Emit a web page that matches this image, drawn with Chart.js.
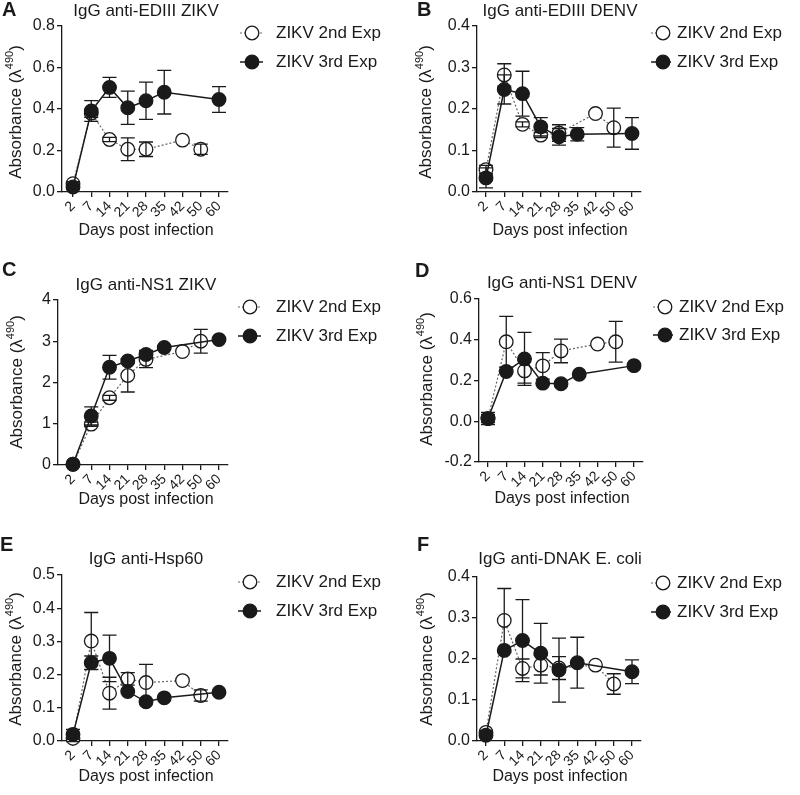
<!DOCTYPE html>
<html>
<head>
<meta charset="utf-8">
<script src="https://cdn.jsdelivr.net/npm/chart.js@4.4.0/dist/chart.umd.min.js"></script>
<style>
  body { margin: 0; background: #fff; width: 800px; height: 795px; position: relative; overflow: hidden; }
  canvas { position: absolute; }
</style>
</head>
<body>
<canvas id="pA" width="400" height="260" style="left:0;top:0"></canvas>
<canvas id="pB" width="400" height="260" style="left:400px;top:0"></canvas>
<canvas id="pC" width="400" height="260" style="left:0;top:260px"></canvas>
<canvas id="pD" width="400" height="260" style="left:400px;top:260px"></canvas>
<canvas id="pE" width="400" height="275" style="left:0;top:520px"></canvas>
<canvas id="pF" width="400" height="275" style="left:400px;top:520px"></canvas>
<script>
const dayLabels = ['2', '7', '14', '21', '28', '35', '42', '50', '60'];
const seriesNames = ['ZIKV 2nd Exp', 'ZIKV 3rd Exp'];

// A - IgG anti-EDIII ZIKV
const aTicks = [0, 0.2, 0.4, 0.6, 0.8];
const a2nd = [0.04, 0.38, 0.253, 0.206, 0.206, null, 0.25, 0.206, null];
const a2ndErr = [0.01, 0.02, 0.01, 0.055, 0.035, 0, 0, 0.025, 0];
const a3rd = [0.024, 0.39, 0.504, 0.406, 0.44, 0.481, null, null, 0.446];
const a3rdErr = [0.01, 0.05, 0.048, 0.08, 0.09, 0.105, 0, 0, 0.062];

// B - IgG anti-EDIII DENV
const bTicks = [0, 0.1, 0.2, 0.3, 0.4];
const b2nd = [0.054, 0.282, 0.163, 0.137, 0.142, null, 0.189, 0.155, null];
const b2ndErr = [0.01, 0.027, 0.006, 0.006, 0.02, 0, 0, 0.047, 0];
const b3rd = [0.034, 0.247, 0.237, 0.157, 0.133, 0.139, null, null, 0.141];
const b3rdErr = [0.024, 0.035, 0.054, 0.022, 0.02, 0.016, 0, 0, 0.038];

// C - IgG anti-NS1 ZIKV
const cTicks = [0, 1, 2, 3, 4];
const c2nd = [0.02, 0.99, 1.63, 2.17, 2.56, null, 2.75, 3.0, null];
const c2ndErr = [0, 0.05, 0.06, 0.4, 0.2, 0, 0, 0.29, 0];
const c3rd = [0.02, 1.19, 2.37, 2.52, 2.68, 2.85, null, null, 3.04];
const c3rdErr = [0, 0.22, 0.29, 0.05, 0.1, 0, 0, 0, 0];

// D - IgG anti-NS1 DENV
const dTicks = [-0.2, 0, 0.2, 0.4, 0.6];
const d2nd = [0.013, 0.39, 0.247, 0.272, 0.345, null, 0.379, 0.39, null];
const d2ndErr = [0.02, 0.125, 0.06, 0.065, 0.058, 0, 0, 0.1, 0];
const d3rd = [0.013, 0.244, 0.306, 0.187, 0.184, 0.231, null, null, 0.273];
const d3rdErr = [0.03, 0, 0.13, 0, 0, 0, 0, 0, 0];

// E - IgG anti-Hsp60
const eTicks = [0, 0.1, 0.2, 0.3, 0.4, 0.5];
const e2nd = [0.008, 0.301, 0.144, 0.187, 0.176, null, 0.182, 0.137, null];
const e2ndErr = [0.01, 0.086, 0.048, 0.019, 0.055, 0, 0, 0.017, 0];
const e3rd = [0.02, 0.236, 0.249, 0.149, 0.118, 0.13, null, null, 0.147];
const e3rdErr = [0.015, 0.02, 0.07, 0, 0, 0, 0, 0, 0];

// F - IgG anti-DNAK E. coli
const fTicks = [0, 0.1, 0.2, 0.3, 0.4];
const f2nd = [0.021, 0.294, 0.177, 0.185, 0.178, null, 0.185, 0.139, null];
const f2ndErr = [0.005, 0.078, 0.023, 0.024, 0.028, 0, 0, 0.025, 0];
const f3rd = [0.014, 0.221, 0.245, 0.214, 0.173, 0.191, null, null, 0.169];
const f3rdErr = [0.005, 0, 0.1, 0.073, 0.078, 0.062, 0, 0, 0.029];

const FONT = '"Liberation Sans", Arial, sans-serif';
const INK = '#1a1a1a';

// layout of each panel in page pixels
const panels = [
  { id: 'pA', x: 0, y: 0, h: 260, letter: 'A', title: 'IgG anti-EDIII ZIKV',
    s2: a2nd, e2: a2ndErr, s3: a3rd, e3: a3rdErr, ticks: aTicks, dec: 1,
    axisX: 62, firstX: 73, right: 228, top: 26, bottom: 192,
    letterPos: [2, 10], titlePos: [146, 11], yTitlePos: [15, 112], xTitleY: 231,
    legX: 252, legTextX: 276, legY: [33, 62] },
  { id: 'pB', x: 400, y: 0, h: 260, letter: 'B', title: 'IgG anti-EDIII DENV',
    s2: b2nd, e2: b2ndErr, s3: b3rd, e3: b3rdErr, ticks: bTicks, dec: 1,
    axisX: 477, firstX: 486, right: 641, top: 26, bottom: 192,
    letterPos: [417, 10], titlePos: [560, 11], yTitlePos: [425, 112], xTitleY: 231,
    legX: 663, legTextX: 677, legY: [33, 62] },
  { id: 'pC', x: 0, y: 260, h: 260, letter: 'C', title: 'IgG anti-NS1 ZIKV',
    s2: c2nd, e2: c2ndErr, s3: c3rd, e3: c3rdErr, ticks: cTicks, dec: 0,
    axisX: 58, firstX: 73, right: 228, top: 300, bottom: 465,
    letterPos: [2, 270], titlePos: [146, 285], yTitlePos: [16, 382], xTitleY: 500,
    legX: 250, legTextX: 276, legY: [307, 336] },
  { id: 'pD', x: 400, y: 260, h: 260, letter: 'D', title: 'IgG anti-NS1 DENV',
    s2: d2nd, e2: d2ndErr, s3: d3rd, e3: d3rdErr, ticks: dTicks, dec: 1,
    axisX: 479, firstX: 488, right: 643, top: 299, bottom: 462,
    letterPos: [415, 271], titlePos: [562, 283], yTitlePos: [426, 379], xTitleY: 499,
    legX: 665, legTextX: 679, legY: [307, 335] },
  { id: 'pE', x: 0, y: 520, h: 275, letter: 'E', title: 'IgG anti-Hsp60',
    s2: e2nd, e2: e2ndErr, s3: e3rd, e3: e3rdErr, ticks: eTicks, dec: 1,
    axisX: 62, firstX: 73, right: 228, top: 575, bottom: 741,
    letterPos: [0, 545], titlePos: [146, 559], yTitlePos: [15, 659], xTitleY: 777,
    legX: 250, legTextX: 276, legY: [582, 611] },
  { id: 'pF', x: 400, y: 520, h: 275, letter: 'F', title: 'IgG anti-DNAK E. coli',
    s2: f2nd, e2: f2ndErr, s3: f3rd, e3: f3rdErr, ticks: fTicks, dec: 1,
    axisX: 477, firstX: 486, right: 641, top: 577, bottom: 741,
    letterPos: [417, 545], titlePos: [560, 559], yTitlePos: [426, 659], xTitleY: 777,
    legX: 663, legTextX: 677, legY: [583, 612] }
];

const Y_AXIS_W = 45;
const X_AXIS_H = 50;
const STEP = 18.25; // px between days

// error bars drawn on top of the markers, like the original
const errorBars = {
  id: 'errorBars',
  afterDatasetsDraw(chart) {
    const ctx = chart.ctx;
    const yScale = chart.scales.y;
    ctx.save();
    ctx.strokeStyle = INK;
    ctx.lineWidth = 1.3;
    chart.data.datasets.forEach((ds, di) => {
      const meta = chart.getDatasetMeta(di);
      ds.errors.forEach((err, i) => {
        const v = ds.data[i].y;
        if (v == null || !err) return;
        const px = meta.data[i].x;
        const yTop = yScale.getPixelForValue(v + err);
        const yBot = yScale.getPixelForValue(v - err);
        ctx.beginPath();
        ctx.moveTo(px, yTop); ctx.lineTo(px, yBot);
        ctx.moveTo(px - 7, yTop); ctx.lineTo(px + 7, yTop);
        ctx.moveTo(px - 7, yBot); ctx.lineTo(px + 7, yBot);
        ctx.stroke();
      });
    });
    ctx.restore();
  }
};

// titles, panel letter, axis titles and legend
const decor = {
  id: 'decor',
  afterDraw(chart) {
    const p = chart.options.plugins.decor.panel;
    const ctx = chart.ctx;
    const ox = p.x, oy = p.y;
    ctx.save();
    ctx.fillStyle = INK;
    ctx.textBaseline = 'middle';

    ctx.font = `bold 20px ${FONT}`;
    ctx.textAlign = 'left';
    ctx.fillText(p.letter, p.letterPos[0] - ox, p.letterPos[1] - oy);

    ctx.font = `17px ${FONT}`;
    ctx.textAlign = 'center';
    ctx.fillText(p.title, p.titlePos[0] - ox, p.titlePos[1] - oy);

    ctx.font = `16px ${FONT}`;
    ctx.fillText('Days post infection', p.titlePos[0] - ox, p.xTitleY - oy);

    // y title with superscript
    ctx.save();
    ctx.translate(p.yTitlePos[0] - ox, p.yTitlePos[1] - oy);
    ctx.rotate(-Math.PI / 2);
    ctx.textAlign = 'left';
    ctx.textBaseline = 'alphabetic';
    const main = 'Absorbance (\u03bb', sup = '490', end = ')';
    ctx.font = `17px ${FONT}`;
    const w1 = ctx.measureText(main).width;
    const w3 = ctx.measureText(end).width;
    ctx.font = `11px ${FONT}`;
    const w2 = ctx.measureText(sup).width;
    let tx = -(w1 + w2 + w3) / 2;
    ctx.font = `17px ${FONT}`;
    ctx.fillText(main, tx, 6);
    tx += w1;
    ctx.font = `11px ${FONT}`;
    ctx.fillText(sup, tx, -2);
    tx += w2;
    ctx.font = `17px ${FONT}`;
    ctx.fillText(end, tx, 6);
    ctx.restore();

    // legend
    seriesNames.forEach((name, i) => {
      const lx = p.legX - ox, ly = p.legY[i] - oy;
      const lineEnd = Math.min(lx + 11, p.legTextX - ox - 6);
      ctx.save();
      ctx.beginPath();
      ctx.moveTo(lx - 12, ly); ctx.lineTo(lineEnd, ly);
      if (i === 0) { ctx.setLineDash([2, 2]); ctx.strokeStyle = '#666'; ctx.lineWidth = 1.2; }
      else { ctx.strokeStyle = INK; ctx.lineWidth = 1.5; }
      ctx.stroke();
      ctx.setLineDash([]);
      ctx.beginPath();
      ctx.arc(lx, ly, 6.8, 0, Math.PI * 2);
      ctx.fillStyle = i === 0 ? '#fff' : INK;
      ctx.fill();
      ctx.strokeStyle = INK;
      ctx.lineWidth = 1.3;
      ctx.stroke();
      ctx.restore();
      ctx.font = `17px ${FONT}`;
      ctx.textAlign = 'left';
      ctx.textBaseline = 'middle';
      ctx.fillText(name, p.legTextX - ox, ly);
    });
    ctx.restore();
  }
};

function drawPanel(p) {
  const xMin = -(p.firstX - p.axisX) / STEP;
  const xMax = 8 + (p.right - p.firstX - 8 * STEP) / STEP;
  const yMin = p.ticks[0], yMax = p.ticks[p.ticks.length - 1];

  new Chart(document.getElementById(p.id), {
    type: 'line',
    data: {
      datasets: [
        {
          label: seriesNames[0],
          data: p.s2.map((v, i) => ({ x: i, y: v })),
          errors: p.e2,
          borderColor: '#666',
          borderWidth: 1.2,
          borderDash: [2, 2],
          pointRadius: 6.8,
          pointBackgroundColor: '#fff',
          pointBorderColor: INK,
          pointBorderWidth: 1.3,
          spanGaps: true,
          clip: false,
          order: 2
        },
        {
          label: seriesNames[1],
          data: p.s3.map((v, i) => ({ x: i, y: v })),
          errors: p.e3,
          borderColor: INK,
          borderWidth: 1.5,
          pointRadius: 6.8,
          pointBackgroundColor: INK,
          pointBorderColor: INK,
          pointBorderWidth: 1.3,
          spanGaps: true,
          clip: false,
          order: 1
        }
      ]
    },
    options: {
      responsive: false,
      animation: false,
      layout: {
        padding: {
          left: p.axisX - p.x - Y_AXIS_W,
          top: p.top - p.y,
          right: p.x + 400 - p.right,
          bottom: p.h - (p.bottom - p.y) - X_AXIS_H
        }
      },
      scales: {
        x: {
          type: 'linear',
          min: xMin,
          max: xMax,
          afterBuildTicks: s => { s.ticks = dayLabels.map((_, i) => ({ value: i })); },
          afterFit: s => { s.height = X_AXIS_H; },
          ticks: {
            callback: (v, i) => dayLabels[i],
            autoSkip: false,
            minRotation: 45,
            maxRotation: 45,
            padding: 1,
            color: INK,
            font: { size: 14, family: FONT }
          },
          grid: { display: true, drawOnChartArea: false, drawTicks: true, tickLength: 5, color: INK, lineWidth: 1.3 },
          border: { display: true, color: INK, width: 1.3 }
        },
        y: {
          type: 'linear',
          min: yMin,
          max: yMax,
          afterBuildTicks: s => { s.ticks = p.ticks.map(v => ({ value: v })); },
          afterFit: s => { s.width = Y_AXIS_W; },
          ticks: {
            callback: v => v.toFixed(p.dec),
            padding: 2,
            color: INK,
            font: { size: 16, family: FONT }
          },
          grid: { display: true, drawOnChartArea: false, drawTicks: true, tickLength: 5, color: INK, lineWidth: 1.3 },
          border: { display: true, color: INK, width: 1.3 }
        }
      },
      plugins: {
        legend: { display: false },
        tooltip: { enabled: false },
        decor: { panel: p }
      }
    },
    plugins: [errorBars, decor]
  });
}

panels.forEach(drawPanel);
</script>
</body>
</html>
